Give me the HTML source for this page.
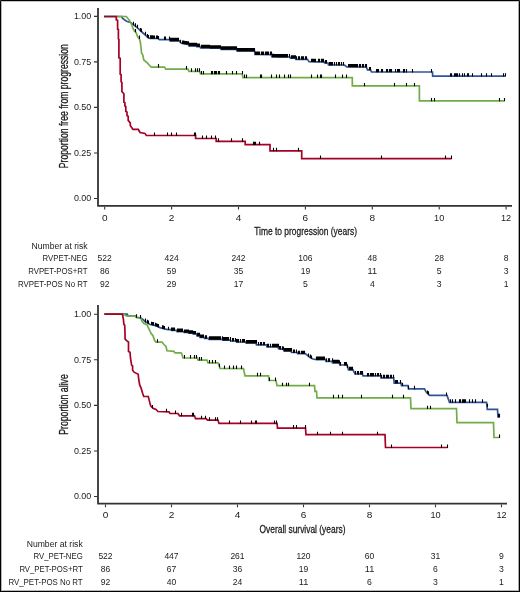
<!DOCTYPE html>
<html><head><meta charset="utf-8"><style>
html,body{margin:0;padding:0;background:#fff;}
svg{display:block;font-family:"Liberation Sans", sans-serif;}
text{filter:grayscale(1);}
</style></head><body>
<svg width="520" height="592" viewBox="0 0 520 592">
<rect x="0" y="0" width="520" height="592" fill="#fff"/>
<path d="M98 8 V205.9 H512" fill="none" stroke="#333" stroke-width="1.8" stroke-linejoin="round"/>
<path d="M94 16.4h3.5M94 61.9h3.5M94 107.4h3.5M94 153.0h3.5M94 198.5h3.5M104.7 206.8v2.6M171.6 206.8v2.6M238.5 206.8v2.6M305.4 206.8v2.6M372.3 206.8v2.6M439.2 206.8v2.6M506.1 206.8v2.6" stroke="#333" stroke-width="1.1" fill="none"/>
<text x="91.3" y="19.3" font-size="9.5" text-anchor="end" fill="#1a1a1a" textLength="17.4" lengthAdjust="spacingAndGlyphs" >1.00</text>
<text x="91.3" y="64.8" font-size="9.5" text-anchor="end" fill="#1a1a1a" textLength="17.4" lengthAdjust="spacingAndGlyphs" >0.75</text>
<text x="91.3" y="110.3" font-size="9.5" text-anchor="end" fill="#1a1a1a" textLength="17.4" lengthAdjust="spacingAndGlyphs" >0.50</text>
<text x="91.3" y="155.9" font-size="9.5" text-anchor="end" fill="#1a1a1a" textLength="17.4" lengthAdjust="spacingAndGlyphs" >0.25</text>
<text x="91.3" y="201.4" font-size="9.5" text-anchor="end" fill="#1a1a1a" textLength="17.4" lengthAdjust="spacingAndGlyphs" >0.00</text>
<text x="104.7" y="220.6" font-size="9.2" text-anchor="middle" fill="#1a1a1a" textLength="5.6" lengthAdjust="spacingAndGlyphs" >0</text>
<text x="171.6" y="220.6" font-size="9.2" text-anchor="middle" fill="#1a1a1a" textLength="5.6" lengthAdjust="spacingAndGlyphs" >2</text>
<text x="238.5" y="220.6" font-size="9.2" text-anchor="middle" fill="#1a1a1a" textLength="5.6" lengthAdjust="spacingAndGlyphs" >4</text>
<text x="305.4" y="220.6" font-size="9.2" text-anchor="middle" fill="#1a1a1a" textLength="5.6" lengthAdjust="spacingAndGlyphs" >6</text>
<text x="372.3" y="220.6" font-size="9.2" text-anchor="middle" fill="#1a1a1a" textLength="5.6" lengthAdjust="spacingAndGlyphs" >8</text>
<text x="439.2" y="220.6" font-size="9.2" text-anchor="middle" fill="#1a1a1a" textLength="10.2" lengthAdjust="spacingAndGlyphs" >10</text>
<text x="506.1" y="220.6" font-size="9.2" text-anchor="middle" fill="#1a1a1a" textLength="10.2" lengthAdjust="spacingAndGlyphs" >12</text>
<text x="254.2" y="235.3" font-size="11.8" text-anchor="start" fill="#1a1a1a" textLength="102.8" lengthAdjust="spacingAndGlyphs" stroke="#1a1a1a" stroke-width="0.3">Time to progression (years)</text>
<text transform="translate(67.6 168.2) rotate(-90)" font-size="12" fill="#1a1a1a" stroke="#1a1a1a" stroke-width="0.3" textLength="124" lengthAdjust="spacingAndGlyphs">Proportion free from progression</text>
<path d="M104.0 16.5 L122.0 16.5 L122.4 18.2 L126.5 21.2 L130.5 22.4 L133.4 24.7 L138.0 28.4 L140.0 30.3 L143.0 33.0 L146.0 35.7 L148.0 37.8 L150.0 38.3 L158.0 38.5 L159.5 39.6 L169.5 39.6 L170.0 40.8 L179.5 40.8 L180.5 42.7 L182.0 43.5 L188.0 44.3 L189.0 45.8 L196.0 45.8 L196.5 46.6 L200.0 46.6 L200.5 47.8 L209.5 47.8 L210.0 48.2 L220.5 48.2 L221.0 49.3 L236.5 49.3 L237.0 51.0 L254.5 51.0 L255.0 54.5 L271.0 54.6 L272.0 56.8 L278.0 57.0 L289.8 57.0 L290.5 58.2 L295.3 58.2 L295.8 59.3 L307.5 59.3 L309.0 61.6 L316.0 61.8 L324.0 61.8 L324.5 63.0 L328.0 63.0 L328.5 65.0 L344.5 65.0 L346.8 66.9 L366.3 67.0 L367.5 69.9 L370.5 69.9 L371.5 71.9 L432.5 72.0 L432.7 76.2 L505.5 76.2" fill="none" stroke="#2f5597" stroke-width="1.7" stroke-linejoin="miter"/>
<path d="M104.0 16.5 L126.3 16.5 L129.5 20.5 L131.5 24.3 L133.0 28.5 L134.5 31.2 L136.0 32.4 L137.6 36.6 L139.2 38.5 L140.3 41.6 L141.0 47.3 L141.5 53.0 L142.7 54.8 L143.8 60.0 L147.3 62.9 L150.2 66.2 L151.3 67.1 L164.5 67.1 L165.8 69.1 L188.0 69.1 L189.0 71.3 L199.5 71.3 L200.5 73.9 L242.2 73.9 L243.0 77.6 L352.3 77.6 L352.3 85.9 L419.4 85.9 L419.4 100.9 L504.3 100.9" fill="none" stroke="#70ad47" stroke-width="1.7" stroke-linejoin="miter"/>
<path d="M104.0 16.5 L116.3 16.5 L116.3 19.9 L117.6 20.3 L117.6 29.2 L118.4 29.6 L118.4 38.9 L118.9 39.3 L118.9 57.9 L120.2 58.3 L120.2 74.3 L121.1 74.8 L121.1 81.9 L121.9 82.4 L121.9 91.6 L123.9 93.8 L123.9 102.2 L124.9 102.7 L124.9 106.0 L125.8 106.5 L125.8 111.5 L127.0 112.1 L127.0 115.7 L128.2 116.2 L128.2 120.4 L129.4 121.9 L130.3 122.8 L130.3 125.7 L131.8 127.8 L132.9 129.3 L138.3 129.3 L139.2 131.0 L140.0 132.5 L145.0 133.4 L146.3 135.4 L195.6 135.5 L195.6 138.5 L216.2 138.5 L216.2 141.3 L245.2 141.3 L245.2 144.7 L270.0 144.7 L270.0 150.8 L301.7 150.8 L301.7 158.6 L451.6 158.6" fill="none" stroke="#a50026" stroke-width="1.7" stroke-linejoin="miter"/>
<path d="M133.5 25.2v-3.4M135.5 26.7v-3.4M137.5 28.2v-3.4M140.5 31.4v-3.4M141.5 32.0v-3.4M145.5 35.2v-3.4M147.5 37.5v-3.4M148.5 38.3v-3.4M150.5 38.7v-3.4M151.5 38.7v-3.4M152.5 38.7v-3.4M153.5 38.8v-3.4M154.5 38.8v-3.4M156.5 38.9v-3.4M157.5 38.9v-3.4M158.5 39.3v-3.4M164.5 40.0v-3.4M165.5 40.0v-3.4M169.5 40.0v-3.4M170.5 41.2v-3.4M171.5 41.2v-3.4M172.5 41.2v-3.4M173.5 41.2v-3.4M174.5 41.2v-3.4M175.5 41.2v-3.4M176.5 41.2v-3.4M177.5 41.2v-3.4M178.5 41.2v-3.4M180.5 43.1v-3.4M182.5 43.9v-3.4M183.5 44.0v-3.4M184.5 44.2v-3.4M185.5 44.3v-3.4M186.5 44.4v-3.4M187.5 44.6v-3.4M188.5 44.7v-3.4M189.5 46.2v-3.4M190.5 46.2v-3.4M191.5 46.2v-3.4M192.5 46.2v-3.4M193.5 46.2v-3.4M194.5 46.2v-3.4M195.5 46.2v-3.4M196.5 46.2v-3.4M197.5 47.0v-3.4M198.5 47.0v-3.4M199.5 47.0v-3.4M201.5 48.2v-3.4M202.5 48.2v-3.4M203.5 48.2v-3.4M204.5 48.2v-3.4M205.5 48.2v-3.4M206.5 48.2v-3.4M207.5 48.2v-3.4M208.5 48.2v-3.4M209.5 48.2v-3.4M210.5 48.6v-3.4M211.5 48.6v-3.4M212.5 48.6v-3.4M213.5 48.6v-3.4M214.5 48.6v-3.4M215.5 48.6v-3.4M216.5 48.6v-3.4M217.5 48.6v-3.4M218.5 48.6v-3.4M219.5 48.6v-3.4M220.5 48.6v-3.4M221.5 49.7v-3.4M222.5 49.7v-3.4M223.5 49.7v-3.4M224.5 49.7v-3.4M225.5 49.7v-3.4M226.5 49.7v-3.4M227.5 49.7v-3.4M228.5 49.7v-3.4M229.5 49.7v-3.4M230.5 49.7v-3.4M231.5 49.7v-3.4M232.5 49.7v-3.4M233.5 49.7v-3.4M234.5 49.7v-3.4M235.5 49.7v-3.4M236.5 49.7v-3.4M237.5 51.4v-3.4M238.5 51.4v-3.4M239.5 51.4v-3.4M240.5 51.4v-3.4M241.5 51.4v-3.4M242.5 51.4v-3.4M243.5 51.4v-3.4M244.5 51.4v-3.4M245.5 51.4v-3.4M246.5 51.4v-3.4M247.5 51.4v-3.4M248.5 51.4v-3.4M249.5 51.4v-3.4M250.5 51.4v-3.4M251.5 51.4v-3.4M252.5 51.4v-3.4M253.5 51.4v-3.4M254.5 51.4v-3.4M255.5 54.9v-3.4M256.5 54.9v-3.4M257.5 54.9v-3.4M258.5 54.9v-3.4M259.5 54.9v-3.4M261.5 54.9v-3.4M262.5 54.9v-3.4M263.5 55.0v-3.4M265.5 55.0v-3.4M266.5 55.0v-3.4M267.5 55.0v-3.4M268.5 55.0v-3.4M270.5 55.0v-3.4M271.5 55.0v-3.4M272.5 57.2v-3.4M273.5 57.2v-3.4M274.5 57.3v-3.4M275.5 57.3v-3.4M276.5 57.3v-3.4M277.5 57.4v-3.4M278.5 57.4v-3.4M279.5 57.4v-3.4M280.5 57.4v-3.4M281.5 57.4v-3.4M282.5 57.4v-3.4M283.5 57.4v-3.4M284.5 57.4v-3.4M285.5 57.4v-3.4M286.5 57.4v-3.4M287.5 57.4v-3.4M289.5 57.4v-3.4M291.5 58.6v-3.4M292.5 58.6v-3.4M293.5 58.6v-3.4M294.5 58.6v-3.4M295.5 58.6v-3.4M296.5 59.7v-3.4M298.5 59.7v-3.4M299.5 59.7v-3.4M301.5 59.7v-3.4M302.5 59.7v-3.4M303.5 59.7v-3.4M305.5 59.7v-3.4M306.5 59.7v-3.4M311.5 62.1v-3.4M312.5 62.1v-3.4M313.5 62.1v-3.4M314.5 62.1v-3.4M315.5 62.2v-3.4M318.5 62.2v-3.4M319.5 62.2v-3.4M321.5 62.2v-3.4M322.5 62.2v-3.4M323.5 62.2v-3.4M325.5 63.4v-3.4M326.5 63.4v-3.4M329.5 65.4v-3.4M330.5 65.4v-3.4M331.5 65.4v-3.4M332.5 65.4v-3.4M334.5 65.4v-3.4M336.5 65.4v-3.4M336.5 65.4v-3.4M338.5 65.4v-3.4M339.5 65.4v-3.4M341.5 65.4v-3.4M343.5 65.4v-3.4M348.5 67.3v-3.4M349.5 67.3v-3.4M350.5 67.3v-3.4M351.5 67.3v-3.4M352.5 67.3v-3.4M353.5 67.3v-3.4M354.5 67.3v-3.4M355.5 67.3v-3.4M356.5 67.3v-3.4M357.5 67.4v-3.4M359.5 67.4v-3.4M360.5 67.4v-3.4M362.5 67.4v-3.4M363.5 67.4v-3.4M365.5 67.4v-3.4M366.5 67.4v-3.4M369.5 70.3v-3.4M370.5 70.3v-3.4M376.5 72.3v-3.4M377.5 72.3v-3.4M378.5 72.3v-3.4M381.5 72.3v-3.4M382.5 72.3v-3.4M386.5 72.3v-3.4M387.5 72.3v-3.4M389.5 72.3v-3.4M390.5 72.3v-3.4M391.5 72.3v-3.4M395.5 72.3v-3.4M397.5 72.3v-3.4M398.5 72.3v-3.4M399.5 72.3v-3.4M403.5 72.4v-3.4M404.5 72.4v-3.4M406.5 72.4v-3.4M412.5 72.4v-3.4M431.5 72.4v-3.4M450.5 76.6v-3.4M451.5 76.6v-3.4M454.5 76.6v-3.4M455.5 76.6v-3.4M456.5 76.6v-3.4M457.5 76.6v-3.4M459.5 76.6v-3.4M462.5 76.6v-3.4M464.5 76.6v-3.4M467.5 76.6v-3.4M468.5 76.6v-3.4M472.5 76.6v-3.4M481.5 76.6v-3.4M486.5 76.6v-3.4M491.5 76.6v-3.4M503.5 76.6v-3.4M505.5 76.6v-3.4M135.5 32.3v-3.4M139.5 38.9v-3.4M158.5 67.5v-3.4M186.5 69.5v-3.4M191.5 71.7v-3.4M195.5 71.7v-3.4M197.5 71.7v-3.4M199.5 71.7v-3.4M201.5 74.3v-3.4M203.5 74.3v-3.4M211.5 74.3v-3.4M212.5 74.3v-3.4M214.5 74.3v-3.4M215.5 74.3v-3.4M216.5 74.3v-3.4M218.5 74.3v-3.4M219.5 74.3v-3.4M226.5 74.3v-3.4M232.5 74.3v-3.4M236.5 74.3v-3.4M242.5 74.3v-3.4M244.5 78.0v-3.4M246.5 78.0v-3.4M260.5 78.0v-3.4M261.5 78.0v-3.4M271.5 78.0v-3.4M276.5 78.0v-3.4M279.5 78.0v-3.4M284.5 78.0v-3.4M288.5 78.0v-3.4M290.5 78.0v-3.4M311.5 78.0v-3.4M317.5 78.0v-3.4M320.5 78.0v-3.4M321.5 78.0v-3.4M335.5 78.0v-3.4M342.5 78.0v-3.4M346.5 78.0v-3.4M364.5 86.3v-3.4M394.5 86.3v-3.4M406.5 86.3v-3.4M414.5 86.3v-3.4M431.5 101.3v-3.4M434.5 101.3v-3.4M499.5 101.3v-3.4M504.5 101.3v-3.4M154.5 135.8v-3.4M167.5 135.8v-3.4M171.5 135.9v-3.4M176.5 135.9v-3.4M194.5 135.9v-3.4M195.5 135.9v-3.4M202.5 138.9v-3.4M206.5 138.9v-3.4M211.5 138.9v-3.4M215.5 138.9v-3.4M218.5 141.7v-3.4M231.5 141.7v-3.4M242.5 141.7v-3.4M253.5 145.1v-3.4M254.5 145.1v-3.4M255.5 145.1v-3.4M259.5 145.1v-3.4M273.5 151.2v-3.4M276.5 151.2v-3.4M298.5 151.2v-3.4M320.5 159.0v-3.4M381.5 159.0v-3.4M445.5 159.0v-3.4M451.5 159.0v-3.4" stroke="#000" stroke-width="1.1" fill="none"/>
<text x="87.6" y="248.8" font-size="8.9" text-anchor="end" fill="#1a1a1a" textLength="56" lengthAdjust="spacingAndGlyphs" >Number at risk</text>
<text x="87.6" y="261.4" font-size="8.9" text-anchor="end" fill="#1a1a1a" textLength="45" lengthAdjust="spacingAndGlyphs" >RVPET-NEG</text>
<text x="87.6" y="274.0" font-size="8.9" text-anchor="end" fill="#1a1a1a" textLength="59.4" lengthAdjust="spacingAndGlyphs" >RVPET-POS+RT</text>
<text x="87.6" y="286.6" font-size="8.9" text-anchor="end" fill="#1a1a1a" textLength="69.6" lengthAdjust="spacingAndGlyphs" >RVPET-POS No RT</text>
<text x="104.7" y="261.4" font-size="8.9" text-anchor="middle" fill="#1a1a1a" textLength="14.2" lengthAdjust="spacingAndGlyphs" >522</text>
<text x="171.6" y="261.4" font-size="8.9" text-anchor="middle" fill="#1a1a1a" textLength="14.2" lengthAdjust="spacingAndGlyphs" >424</text>
<text x="238.5" y="261.4" font-size="8.9" text-anchor="middle" fill="#1a1a1a" textLength="14.2" lengthAdjust="spacingAndGlyphs" >242</text>
<text x="305.4" y="261.4" font-size="8.9" text-anchor="middle" fill="#1a1a1a" textLength="14.2" lengthAdjust="spacingAndGlyphs" >106</text>
<text x="372.3" y="261.4" font-size="8.9" text-anchor="middle" fill="#1a1a1a" textLength="9.5" lengthAdjust="spacingAndGlyphs" >48</text>
<text x="439.2" y="261.4" font-size="8.9" text-anchor="middle" fill="#1a1a1a" textLength="9.5" lengthAdjust="spacingAndGlyphs" >28</text>
<text x="506.1" y="261.4" font-size="8.9" text-anchor="middle" fill="#1a1a1a" textLength="4.8" lengthAdjust="spacingAndGlyphs" >8</text>
<text x="104.7" y="274.0" font-size="8.9" text-anchor="middle" fill="#1a1a1a" textLength="9.5" lengthAdjust="spacingAndGlyphs" >86</text>
<text x="171.6" y="274.0" font-size="8.9" text-anchor="middle" fill="#1a1a1a" textLength="9.5" lengthAdjust="spacingAndGlyphs" >59</text>
<text x="238.5" y="274.0" font-size="8.9" text-anchor="middle" fill="#1a1a1a" textLength="9.5" lengthAdjust="spacingAndGlyphs" >35</text>
<text x="305.4" y="274.0" font-size="8.9" text-anchor="middle" fill="#1a1a1a" textLength="9.5" lengthAdjust="spacingAndGlyphs" >19</text>
<text x="372.3" y="274.0" font-size="8.9" text-anchor="middle" fill="#1a1a1a" textLength="9.5" lengthAdjust="spacingAndGlyphs" >11</text>
<text x="439.2" y="274.0" font-size="8.9" text-anchor="middle" fill="#1a1a1a" textLength="4.8" lengthAdjust="spacingAndGlyphs" >5</text>
<text x="506.1" y="274.0" font-size="8.9" text-anchor="middle" fill="#1a1a1a" textLength="4.8" lengthAdjust="spacingAndGlyphs" >3</text>
<text x="104.7" y="286.6" font-size="8.9" text-anchor="middle" fill="#1a1a1a" textLength="9.5" lengthAdjust="spacingAndGlyphs" >92</text>
<text x="171.6" y="286.6" font-size="8.9" text-anchor="middle" fill="#1a1a1a" textLength="9.5" lengthAdjust="spacingAndGlyphs" >29</text>
<text x="238.5" y="286.6" font-size="8.9" text-anchor="middle" fill="#1a1a1a" textLength="9.5" lengthAdjust="spacingAndGlyphs" >17</text>
<text x="305.4" y="286.6" font-size="8.9" text-anchor="middle" fill="#1a1a1a" textLength="4.8" lengthAdjust="spacingAndGlyphs" >5</text>
<text x="372.3" y="286.6" font-size="8.9" text-anchor="middle" fill="#1a1a1a" textLength="4.8" lengthAdjust="spacingAndGlyphs" >4</text>
<text x="439.2" y="286.6" font-size="8.9" text-anchor="middle" fill="#1a1a1a" textLength="4.8" lengthAdjust="spacingAndGlyphs" >3</text>
<text x="506.1" y="286.6" font-size="8.9" text-anchor="middle" fill="#1a1a1a" textLength="4.8" lengthAdjust="spacingAndGlyphs" >1</text>
<path d="M98 305 V503.7 H507" fill="none" stroke="#333" stroke-width="1.8" stroke-linejoin="round"/>
<path d="M94 314.2h3.5M94 359.8h3.5M94 405.4h3.5M94 451.0h3.5M94 496.5h3.5M105.5 504.59999999999997v2.6M171.5 504.59999999999997v2.6M237.5 504.59999999999997v2.6M303.5 504.59999999999997v2.6M369.5 504.59999999999997v2.6M435.5 504.59999999999997v2.6M501.5 504.59999999999997v2.6" stroke="#333" stroke-width="1.1" fill="none"/>
<text x="91.3" y="317.1" font-size="9.5" text-anchor="end" fill="#1a1a1a" textLength="17.4" lengthAdjust="spacingAndGlyphs" >1.00</text>
<text x="91.3" y="362.7" font-size="9.5" text-anchor="end" fill="#1a1a1a" textLength="17.4" lengthAdjust="spacingAndGlyphs" >0.75</text>
<text x="91.3" y="408.3" font-size="9.5" text-anchor="end" fill="#1a1a1a" textLength="17.4" lengthAdjust="spacingAndGlyphs" >0.50</text>
<text x="91.3" y="453.9" font-size="9.5" text-anchor="end" fill="#1a1a1a" textLength="17.4" lengthAdjust="spacingAndGlyphs" >0.25</text>
<text x="91.3" y="499.4" font-size="9.5" text-anchor="end" fill="#1a1a1a" textLength="17.4" lengthAdjust="spacingAndGlyphs" >0.00</text>
<text x="105.5" y="518.4" font-size="9.2" text-anchor="middle" fill="#1a1a1a" textLength="5.6" lengthAdjust="spacingAndGlyphs" >0</text>
<text x="171.5" y="518.4" font-size="9.2" text-anchor="middle" fill="#1a1a1a" textLength="5.6" lengthAdjust="spacingAndGlyphs" >2</text>
<text x="237.5" y="518.4" font-size="9.2" text-anchor="middle" fill="#1a1a1a" textLength="5.6" lengthAdjust="spacingAndGlyphs" >4</text>
<text x="303.5" y="518.4" font-size="9.2" text-anchor="middle" fill="#1a1a1a" textLength="5.6" lengthAdjust="spacingAndGlyphs" >6</text>
<text x="369.5" y="518.4" font-size="9.2" text-anchor="middle" fill="#1a1a1a" textLength="5.6" lengthAdjust="spacingAndGlyphs" >8</text>
<text x="435.5" y="518.4" font-size="9.2" text-anchor="middle" fill="#1a1a1a" textLength="10.2" lengthAdjust="spacingAndGlyphs" >10</text>
<text x="501.5" y="518.4" font-size="9.2" text-anchor="middle" fill="#1a1a1a" textLength="10.2" lengthAdjust="spacingAndGlyphs" >12</text>
<text x="259.5" y="533.1" font-size="11.8" text-anchor="start" fill="#1a1a1a" textLength="86" lengthAdjust="spacingAndGlyphs" stroke="#1a1a1a" stroke-width="0.3">Overall survival (years)</text>
<text transform="translate(67.6 434.8) rotate(-90)" font-size="12" fill="#1a1a1a" stroke="#1a1a1a" stroke-width="0.3" textLength="60.6" lengthAdjust="spacingAndGlyphs">Proportion alive</text>
<path d="M104.4 314.2 L127.2 314.2 L128.0 316.0 L135.5 316.1 L136.5 317.3 L141.0 318.0 L143.5 320.0 L145.0 321.5 L148.0 323.2 L150.0 324.5 L154.6 325.3 L160.0 327.6 L165.4 329.2 L168.0 329.7 L171.0 329.7 L171.5 330.4 L176.5 330.4 L177.0 331.6 L183.4 331.6 L184.0 332.4 L188.0 332.4 L188.5 333.2 L192.6 333.2 L193.0 333.9 L196.5 333.9 L197.0 335.8 L199.5 335.8 L200.0 337.4 L204.0 337.4 L204.5 338.3 L208.5 338.3 L209.0 339.3 L222.0 339.3 L222.5 340.1 L230.0 340.1 L230.5 341.0 L236.0 341.0 L236.5 342.0 L245.5 342.0 L246.0 343.0 L256.0 343.0 L256.5 344.9 L266.5 344.9 L267.0 346.8 L278.0 346.8 L278.5 348.8 L283.5 349.5 L284.0 351.0 L291.0 351.0 L291.5 352.5 L297.0 352.5 L297.5 353.7 L305.3 353.7 L310.0 357.5 L313.0 359.0 L316.4 359.6 L325.5 359.5 L326.0 361.3 L332.0 361.3 L332.5 362.8 L339.3 362.8 L339.8 365.0 L347.0 365.0 L348.5 369.8 L353.0 369.8 L355.0 374.0 L362.5 374.0 L363.0 375.9 L380.5 375.9 L381.0 377.8 L393.7 377.8 L394.2 383.1 L401.0 383.1 L401.5 385.7 L408.0 385.7 L408.5 388.8 L424.5 388.8 L426.0 391.8 L429.5 395.4 L447.0 395.4 L449.5 402.3 L486.5 402.3 L487.3 409.3 L497.5 409.3 L498.0 416.8 L500.0 416.8" fill="none" stroke="#2f5597" stroke-width="1.7" stroke-linejoin="miter"/>
<path d="M104.4 314.2 L122.5 314.2 L125.0 315.0 L127.0 316.1 L135.0 316.1 L137.0 317.8 L141.0 318.4 L142.0 321.3 L144.0 323.6 L147.0 324.7 L148.0 327.0 L150.0 331.0 L151.0 333.4 L153.0 335.7 L154.5 340.3 L156.0 342.2 L162.0 342.2 L164.0 344.5 L166.0 346.5 L167.0 350.8 L174.0 351.4 L175.0 352.9 L181.0 352.9 L182.0 354.4 L183.0 358.0 L197.5 358.0 L198.0 360.1 L207.0 360.1 L208.0 362.9 L218.0 362.9 L219.0 365.2 L220.0 368.4 L243.5 368.6 L244.0 371.4 L245.0 375.8 L268.5 375.8 L269.0 380.5 L276.0 380.5 L277.0 385.7 L314.5 385.7 L315.0 391.4 L316.5 391.4 L317.0 397.8 L410.5 397.8 L411.0 408.7 L456.5 408.7 L457.0 422.7 L493.5 422.7 L494.0 437.5 L499.0 437.5" fill="none" stroke="#70ad47" stroke-width="1.7" stroke-linejoin="miter"/>
<path d="M104.4 314.2 L122.4 314.2 L123.4 319.3 L123.9 324.3 L124.7 325.2 L125.0 332.8 L125.1 339.1 L127.2 341.2 L128.5 342.0 L128.5 351.4 L130.0 352.2 L130.6 359.0 L131.6 365.1 L132.6 366.1 L132.6 370.2 L134.1 372.2 L138.2 374.2 L138.7 379.3 L139.7 384.9 L141.2 388.4 L142.7 393.5 L143.7 396.5 L148.3 396.5 L149.3 400.6 L150.3 404.6 L150.8 406.1 L153.0 408.3 L156.0 409.4 L158.0 411.5 L169.0 411.8 L170.0 413.5 L178.0 413.5 L179.5 415.8 L194.5 415.8 L195.5 418.7 L206.0 418.7 L207.5 420.2 L218.0 420.2 L219.0 423.4 L277.0 423.4 L277.5 428.1 L305.5 428.1 L306.0 434.7 L385.0 434.7 L385.5 447.5 L447.5 447.5" fill="none" stroke="#a50026" stroke-width="1.7" stroke-linejoin="miter"/>
<path d="M136.5 317.7v-3.4M140.5 318.4v-3.4M145.5 321.9v-3.4M145.5 322.4v-3.4M147.5 323.2v-3.4M148.5 323.8v-3.4M151.5 325.1v-3.4M152.5 325.3v-3.4M153.5 325.4v-3.4M155.5 326.2v-3.4M156.5 326.6v-3.4M157.5 327.1v-3.4M158.5 327.5v-3.4M162.5 328.7v-3.4M163.5 329.0v-3.4M164.5 329.3v-3.4M168.5 330.1v-3.4M171.5 330.8v-3.4M172.5 330.8v-3.4M173.5 330.8v-3.4M174.5 330.8v-3.4M177.5 332.0v-3.4M178.5 332.0v-3.4M179.5 332.0v-3.4M180.5 332.0v-3.4M181.5 332.0v-3.4M182.5 332.0v-3.4M184.5 332.8v-3.4M185.5 332.8v-3.4M186.5 332.8v-3.4M187.5 332.8v-3.4M188.5 332.8v-3.4M189.5 333.6v-3.4M190.5 333.6v-3.4M191.5 333.6v-3.4M192.5 333.6v-3.4M193.5 334.3v-3.4M194.5 334.3v-3.4M195.5 334.3v-3.4M197.5 336.2v-3.4M198.5 336.2v-3.4M199.5 336.2v-3.4M200.5 337.8v-3.4M201.5 337.8v-3.4M202.5 337.8v-3.4M203.5 337.8v-3.4M205.5 338.7v-3.4M206.5 338.7v-3.4M209.5 339.7v-3.4M210.5 339.7v-3.4M211.5 339.7v-3.4M212.5 339.7v-3.4M213.5 339.7v-3.4M214.5 339.7v-3.4M215.5 339.7v-3.4M216.5 339.7v-3.4M217.5 339.7v-3.4M218.5 339.7v-3.4M219.5 339.7v-3.4M220.5 339.7v-3.4M222.5 339.7v-3.4M223.5 340.5v-3.4M224.5 340.5v-3.4M225.5 340.5v-3.4M226.5 340.5v-3.4M227.5 340.5v-3.4M228.5 340.5v-3.4M230.5 340.5v-3.4M230.5 341.4v-3.4M232.5 341.4v-3.4M233.5 341.4v-3.4M235.5 341.4v-3.4M236.5 342.4v-3.4M237.5 342.4v-3.4M238.5 342.4v-3.4M240.5 342.4v-3.4M242.5 342.4v-3.4M243.5 342.4v-3.4M244.5 342.4v-3.4M246.5 343.4v-3.4M247.5 343.4v-3.4M248.5 343.4v-3.4M249.5 343.4v-3.4M250.5 343.4v-3.4M251.5 343.4v-3.4M252.5 343.4v-3.4M253.5 343.4v-3.4M254.5 343.4v-3.4M255.5 343.4v-3.4M256.5 343.4v-3.4M258.5 345.3v-3.4M260.5 345.3v-3.4M261.5 345.3v-3.4M263.5 345.3v-3.4M264.5 345.3v-3.4M267.5 347.2v-3.4M268.5 347.2v-3.4M270.5 347.2v-3.4M272.5 347.2v-3.4M273.5 347.2v-3.4M274.5 347.2v-3.4M275.5 347.2v-3.4M276.5 347.2v-3.4M277.5 347.2v-3.4M278.5 347.2v-3.4M279.5 349.3v-3.4M280.5 349.5v-3.4M282.5 349.7v-3.4M283.5 349.8v-3.4M284.5 351.4v-3.4M285.5 351.4v-3.4M286.5 351.4v-3.4M287.5 351.4v-3.4M288.5 351.4v-3.4M289.5 351.4v-3.4M290.5 351.4v-3.4M291.5 351.4v-3.4M293.5 352.9v-3.4M294.5 352.9v-3.4M296.5 352.9v-3.4M298.5 354.1v-3.4M299.5 354.1v-3.4M301.5 354.1v-3.4M302.5 354.1v-3.4M303.5 354.1v-3.4M304.5 354.1v-3.4M308.5 356.8v-3.4M310.5 357.9v-3.4M311.5 358.8v-3.4M316.5 360.0v-3.4M317.5 360.0v-3.4M318.5 360.0v-3.4M319.5 360.0v-3.4M320.5 360.0v-3.4M321.5 359.9v-3.4M322.5 359.9v-3.4M323.5 359.9v-3.4M324.5 359.9v-3.4M326.5 361.7v-3.4M328.5 361.7v-3.4M329.5 361.7v-3.4M332.5 361.7v-3.4M333.5 363.2v-3.4M334.5 363.2v-3.4M335.5 363.2v-3.4M336.5 363.2v-3.4M337.5 363.2v-3.4M338.5 363.2v-3.4M339.5 363.6v-3.4M340.5 365.4v-3.4M344.5 365.4v-3.4M345.5 365.4v-3.4M346.5 365.4v-3.4M347.5 368.0v-3.4M349.5 370.2v-3.4M350.5 370.2v-3.4M351.5 370.2v-3.4M352.5 370.2v-3.4M355.5 374.4v-3.4M357.5 374.4v-3.4M358.5 374.4v-3.4M360.5 374.4v-3.4M361.5 374.4v-3.4M362.5 374.4v-3.4M367.5 376.3v-3.4M368.5 376.3v-3.4M370.5 376.3v-3.4M371.5 376.3v-3.4M372.5 376.3v-3.4M373.5 376.3v-3.4M375.5 376.3v-3.4M377.5 376.3v-3.4M378.5 376.3v-3.4M380.5 376.3v-3.4M381.5 378.2v-3.4M383.5 378.2v-3.4M384.5 378.2v-3.4M386.5 378.2v-3.4M387.5 378.2v-3.4M388.5 378.2v-3.4M390.5 378.2v-3.4M391.5 378.2v-3.4M393.5 378.2v-3.4M395.5 383.5v-3.4M396.5 383.5v-3.4M397.5 383.5v-3.4M400.5 383.5v-3.4M402.5 386.1v-3.4M408.5 389.2v-3.4M414.5 389.2v-3.4M427.5 393.8v-3.4M428.5 394.7v-3.4M446.5 395.8v-3.4M450.5 402.7v-3.4M452.5 402.7v-3.4M455.5 402.7v-3.4M459.5 402.7v-3.4M460.5 402.7v-3.4M462.5 402.7v-3.4M463.5 402.7v-3.4M464.5 402.7v-3.4M465.5 402.7v-3.4M469.5 402.7v-3.4M472.5 402.7v-3.4M475.5 402.7v-3.4M482.5 402.7v-3.4M487.5 407.1v-3.4M498.5 417.2v-3.4M499.5 417.2v-3.4M157.5 342.6v-3.4M184.5 358.4v-3.4M190.5 358.4v-3.4M194.5 358.4v-3.4M196.5 358.4v-3.4M199.5 360.5v-3.4M201.5 360.5v-3.4M209.5 363.3v-3.4M212.5 363.3v-3.4M215.5 363.3v-3.4M219.5 367.2v-3.4M224.5 368.8v-3.4M229.5 368.9v-3.4M233.5 368.9v-3.4M236.5 368.9v-3.4M236.5 368.9v-3.4M241.5 369.0v-3.4M257.5 376.2v-3.4M260.5 376.2v-3.4M269.5 380.9v-3.4M275.5 380.9v-3.4M282.5 386.1v-3.4M286.5 386.1v-3.4M288.5 386.1v-3.4M309.5 386.1v-3.4M333.5 398.2v-3.4M338.5 398.2v-3.4M342.5 398.2v-3.4M361.5 398.2v-3.4M392.5 398.2v-3.4M403.5 398.2v-3.4M427.5 409.1v-3.4M430.5 409.1v-3.4M499.5 437.9v-3.4M152.5 408.3v-3.4M166.5 412.1v-3.4M175.5 413.9v-3.4M181.5 416.2v-3.4M192.5 416.2v-3.4M193.5 416.2v-3.4M201.5 419.1v-3.4M205.5 419.1v-3.4M209.5 420.6v-3.4M215.5 420.6v-3.4M217.5 420.6v-3.4M229.5 423.8v-3.4M240.5 423.8v-3.4M251.5 423.8v-3.4M255.5 423.8v-3.4M256.5 423.8v-3.4M274.5 423.8v-3.4M276.5 423.8v-3.4M293.5 428.5v-3.4M296.5 428.5v-3.4M305.5 428.5v-3.4M317.5 435.1v-3.4M330.5 435.1v-3.4M342.5 435.1v-3.4M377.5 435.1v-3.4M391.5 447.9v-3.4M441.5 447.9v-3.4M447.5 447.9v-3.4" stroke="#000" stroke-width="1.1" fill="none"/>
<text x="82.7" y="546.8" font-size="8.9" text-anchor="end" fill="#1a1a1a" textLength="56" lengthAdjust="spacingAndGlyphs" >Number at risk</text>
<text x="82.7" y="559.4" font-size="8.9" text-anchor="end" fill="#1a1a1a" textLength="49.2" lengthAdjust="spacingAndGlyphs" >RV_PET-NEG</text>
<text x="82.7" y="572.0" font-size="8.9" text-anchor="end" fill="#1a1a1a" textLength="63.3" lengthAdjust="spacingAndGlyphs" >RV_PET-POS+RT</text>
<text x="82.7" y="584.6" font-size="8.9" text-anchor="end" fill="#1a1a1a" textLength="74.3" lengthAdjust="spacingAndGlyphs" >RV_PET-POS No RT</text>
<text x="105.5" y="559.4" font-size="8.9" text-anchor="middle" fill="#1a1a1a" textLength="14.2" lengthAdjust="spacingAndGlyphs" >522</text>
<text x="171.5" y="559.4" font-size="8.9" text-anchor="middle" fill="#1a1a1a" textLength="14.2" lengthAdjust="spacingAndGlyphs" >447</text>
<text x="237.5" y="559.4" font-size="8.9" text-anchor="middle" fill="#1a1a1a" textLength="14.2" lengthAdjust="spacingAndGlyphs" >261</text>
<text x="303.5" y="559.4" font-size="8.9" text-anchor="middle" fill="#1a1a1a" textLength="14.2" lengthAdjust="spacingAndGlyphs" >120</text>
<text x="369.5" y="559.4" font-size="8.9" text-anchor="middle" fill="#1a1a1a" textLength="9.5" lengthAdjust="spacingAndGlyphs" >60</text>
<text x="435.5" y="559.4" font-size="8.9" text-anchor="middle" fill="#1a1a1a" textLength="9.5" lengthAdjust="spacingAndGlyphs" >31</text>
<text x="501.5" y="559.4" font-size="8.9" text-anchor="middle" fill="#1a1a1a" textLength="4.8" lengthAdjust="spacingAndGlyphs" >9</text>
<text x="105.5" y="572.0" font-size="8.9" text-anchor="middle" fill="#1a1a1a" textLength="9.5" lengthAdjust="spacingAndGlyphs" >86</text>
<text x="171.5" y="572.0" font-size="8.9" text-anchor="middle" fill="#1a1a1a" textLength="9.5" lengthAdjust="spacingAndGlyphs" >67</text>
<text x="237.5" y="572.0" font-size="8.9" text-anchor="middle" fill="#1a1a1a" textLength="9.5" lengthAdjust="spacingAndGlyphs" >36</text>
<text x="303.5" y="572.0" font-size="8.9" text-anchor="middle" fill="#1a1a1a" textLength="9.5" lengthAdjust="spacingAndGlyphs" >19</text>
<text x="369.5" y="572.0" font-size="8.9" text-anchor="middle" fill="#1a1a1a" textLength="9.5" lengthAdjust="spacingAndGlyphs" >11</text>
<text x="435.5" y="572.0" font-size="8.9" text-anchor="middle" fill="#1a1a1a" textLength="4.8" lengthAdjust="spacingAndGlyphs" >6</text>
<text x="501.5" y="572.0" font-size="8.9" text-anchor="middle" fill="#1a1a1a" textLength="4.8" lengthAdjust="spacingAndGlyphs" >3</text>
<text x="105.5" y="584.6" font-size="8.9" text-anchor="middle" fill="#1a1a1a" textLength="9.5" lengthAdjust="spacingAndGlyphs" >92</text>
<text x="171.5" y="584.6" font-size="8.9" text-anchor="middle" fill="#1a1a1a" textLength="9.5" lengthAdjust="spacingAndGlyphs" >40</text>
<text x="237.5" y="584.6" font-size="8.9" text-anchor="middle" fill="#1a1a1a" textLength="9.5" lengthAdjust="spacingAndGlyphs" >24</text>
<text x="303.5" y="584.6" font-size="8.9" text-anchor="middle" fill="#1a1a1a" textLength="9.5" lengthAdjust="spacingAndGlyphs" >11</text>
<text x="369.5" y="584.6" font-size="8.9" text-anchor="middle" fill="#1a1a1a" textLength="4.8" lengthAdjust="spacingAndGlyphs" >6</text>
<text x="435.5" y="584.6" font-size="8.9" text-anchor="middle" fill="#1a1a1a" textLength="4.8" lengthAdjust="spacingAndGlyphs" >3</text>
<text x="501.5" y="584.6" font-size="8.9" text-anchor="middle" fill="#1a1a1a" textLength="4.8" lengthAdjust="spacingAndGlyphs" >1</text>
<path d="M0.5 0.5 H519.5 V591 H0.5 Z" fill="none" stroke="#000" stroke-width="1"/>
<rect x="0" y="591" width="520" height="1" fill="#000"/><rect x="1" y="590" width="518" height="1" fill="#b8b8b8"/><rect x="1" y="1" width="518" height="1" fill="#c4c4c4"/><rect x="1" y="1" width="1" height="590" fill="#b4b4b4"/><rect x="518" y="1" width="1" height="590" fill="#aaaaaa"/>
</svg>
</body></html>
